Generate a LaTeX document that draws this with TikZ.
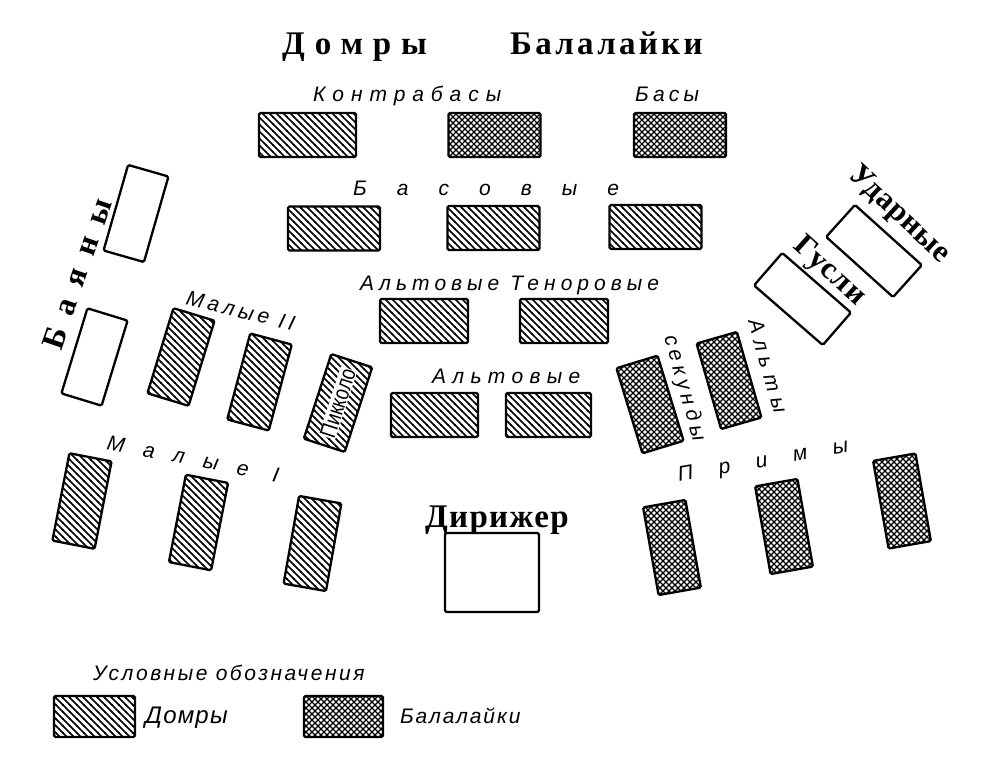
\documentclass[tikz,border=0pt]{standalone}
\usepackage{fontspec}
\setmainfont{Liberation Serif}
\newfontfamily\labfont{Liberation Sans}
\newfontfamily\narrowfont{Liberation Sans}[FakeStretch=0.8]
\usepackage{tikz}
\usetikzlibrary{patterns}

% hatching for the two instrument kinds
\pgfdeclarepatternformonly{domrahatch}{\pgfqpoint{-1pt}{-1pt}}{\pgfqpoint{8pt}{8pt}}{\pgfqpoint{7pt}{7pt}}{%
  \pgfsetlinewidth{1.7pt}
  \pgfpathmoveto{\pgfqpoint{-0.5pt}{7.5pt}}
  \pgfpathlineto{\pgfqpoint{7.5pt}{-0.5pt}}
  \pgfusepath{stroke}}
\pgfdeclarepatternformonly{balahatch}{\pgfqpoint{-1pt}{-1pt}}{\pgfqpoint{7pt}{7pt}}{\pgfqpoint{6pt}{6pt}}{%
  \pgfsetlinewidth{1.35pt}
  \pgfpathmoveto{\pgfqpoint{-0.5pt}{-0.5pt}}
  \pgfpathlineto{\pgfqpoint{6.5pt}{6.5pt}}
  \pgfpathmoveto{\pgfqpoint{-0.5pt}{6.5pt}}
  \pgfpathlineto{\pgfqpoint{6.5pt}{-0.5pt}}
  \pgfusepath{stroke}}

\newcommand\ls[1]{\addfontfeatures{LetterSpace=#1}}

\begin{document}
\begin{tikzpicture}[
  x=1pt, y=-1pt,
  desk/.style={draw, line width=2.3pt, rounded corners=1.5pt, inner sep=0pt},
  tall/.style={desk, minimum width=43pt, minimum height=89pt},
  wide/.style={desk, minimum width=92pt, minimum height=44pt},
  domra/.style={pattern=domrahatch},
  bala/.style={pattern=balahatch},
  lab/.style={font=\fontsize{21}{21}\labfont\itshape, inner sep=0pt, anchor=base west},
  big/.style={font=\fontsize{30}{30}\selectfont\bfseries, inner sep=0pt},
]
  \useasboundingbox (0,0) rectangle (990,768);

  % Title
  \node[big, anchor=base west, font=\fontsize{33}{33}\selectfont\bfseries] (tdom) at (282,55) {\ls{30}Домры};
  \node[big, anchor=base west, font=\fontsize{33}{33}\selectfont\bfseries] (tbal) at (510,55) {\ls{10}Балалайки};

  % Back rows
  \node[wide, domra, minimum width=97pt] (kb1) at (307.5,135) {};
  \node[wide, bala] (kb2) at (494.5,135) {};
  \node[wide, bala] (bs) at (680,135) {};
  \node[lab] (lkb) at (313,101) {\ls{33}Контрабасы};
  \node[lab] (lbs) at (635,101) {\ls{20}Басы};

  \node[wide, domra] (b1) at (334,228.5) {};
  \node[wide, domra] (b2) at (493.5,228) {};
  \node[wide, domra] (b3) at (655.5,227) {};
  \node[lab] (lb) at (353,195) {\ls{143}Басовые};

  \node[wide, domra, minimum width=88pt] (at1) at (424,321) {};
  \node[wide, domra, minimum width=88pt] (at2) at (564,321) {};
  \node[lab] (lat) at (360,290) {\ls{24}Альтовые Теноровые};

  \node[wide, domra, minimum width=87pt] (a1) at (434.5,415) {};
  \node[wide, domra, minimum width=85pt] (a2) at (548.5,415) {};
  \node[lab] (la) at (432,383) {\ls{30}Альтовые};

  % Bayans
  \node[tall, minimum width=42pt, rotate=-16] (bj1) at (136,213.5) {};
  \node[tall, minimum width=42pt, rotate=-17] (bj2) at (94.5,357) {};
  \node[big, anchor=base west, rotate=71, font=\fontsize{32}{32}\selectfont\bfseries] (lbj) at (61,352) {\ls{47}Баяны};

  % Malye II and piccolo
  \node[tall, domra, rotate=-17] (m21) at (181,357) {};
  \node[tall, domra, rotate=-15] (m22) at (259.5,382) {};
  \node[tall, domra, rotate=-18] (pic) at (338,403) {};
  \node[rotate=72, fill=white, inner sep=0.5pt, font=\fontsize{23}{23}\narrowfont] (lpic) at (pic) {Пикколо};
  \node[lab, rotate=-14] (lm2) at (185,304) {\ls{20}Малые II};

  % Malye I
  \node[tall, domra, rotate=-11] (m11) at (82,501) {};
  \node[tall, domra, rotate=-11] (m12) at (198.5,522.5) {};
  \node[tall, domra, rotate=-10] (m13) at (312.5,543.5) {};
  \node[lab, rotate=-11] (lm1) at (106,449) {\ls{90}Малые I};

  % Primy, sekundy, alty
  \node[tall, bala, rotate=10] (p1) at (672,547.5) {};
  \node[tall, bala, rotate=10] (p2) at (784,526.5) {};
  \node[tall, bala, rotate=10] (p3) at (902,501) {};
  \node[lab, rotate=10] (lp) at (679,482) {\ls{124}Примы};

  \node[tall, bala, rotate=17] (sek) at (650,404.5) {};
  \node[tall, bala, minimum width=42pt, rotate=16] (alt) at (729,380.5) {};
  \node[lab, rotate=-74] (lsek) at (664,337) {\ls{22}секунды};
  \node[lab, rotate=-74] (lalt) at (748,321) {\ls{32}Альты};

  % Gusli and percussion
  \node[wide, minimum width=91pt, minimum height=43pt, rotate=-41] (gus) at (802.5,299) {};
  \node[wide, minimum width=90pt, minimum height=43pt, rotate=-42] (udar) at (874,251) {};
  \node[big, rotate=-42, font=\fontsize{31}{31}\selectfont\bfseries] (lgus) at (829,272) {\ls{4}Гусли};
  \node[big, rotate=-43, font=\fontsize{31}{31}\selectfont\bfseries] (ludar) at (899,215) {\ls{2}Ударные};

  % Conductor
  \node[desk, minimum width=94pt, minimum height=79pt] (dir) at (492,572.5) {};
  \node[big, anchor=base west, font=\fontsize{33}{33}\selectfont\bfseries] (ldir) at (425,527) {\ls{4}Дирижер};

  % Legend
  \node[lab] (lleg) at (93,680) {\ls{12}Условные обозначения};
  \node[desk, domra, minimum width=81pt, minimum height=41pt] (leg1) at (94.5,716.5) {};
  \node[lab, font=\fontsize{24}{24}\labfont\itshape] (lleg1) at (145,723) {\ls{5}Домры};
  \node[desk, bala, minimum width=79pt, minimum height=41pt] (leg2) at (343.5,716.5) {};
  \node[lab] (lleg2) at (400,723) {\ls{9}Балалайки};
\end{tikzpicture}
\end{document}
